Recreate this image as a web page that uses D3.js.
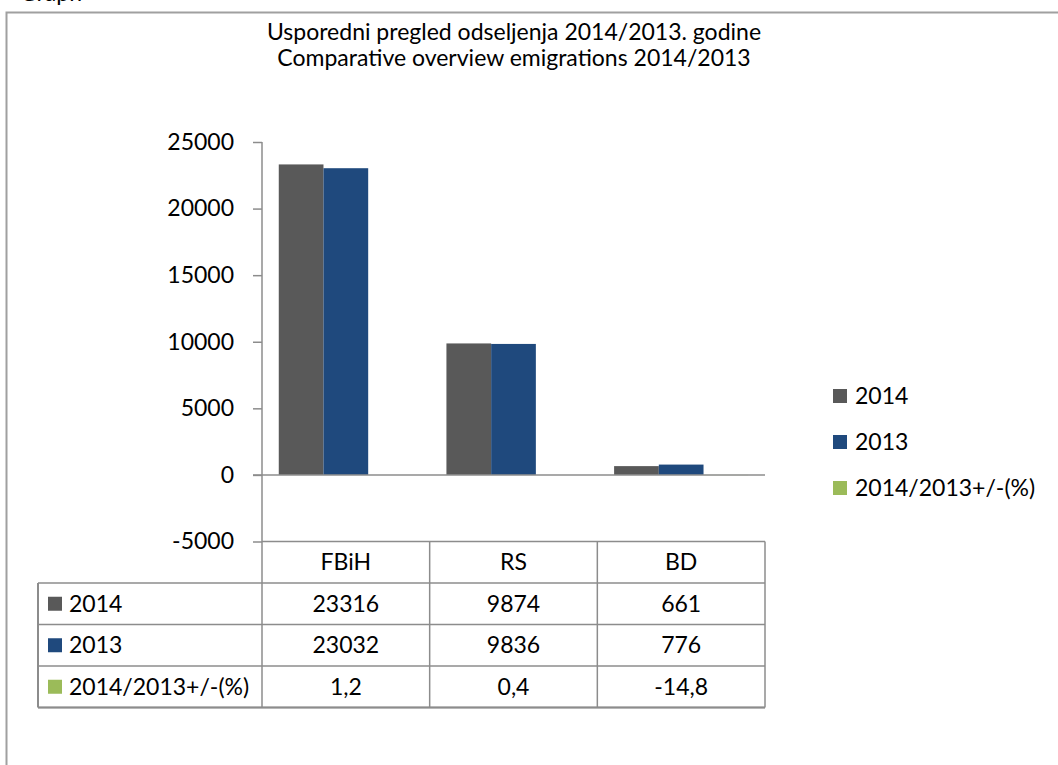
<!DOCTYPE html>
<html>
<head>
<meta charset="utf-8">
<script src="https://cdn.jsdelivr.net/npm/d3@7"></script>
<style>
    body { margin: 0; background: #fff; }
    svg { display: block; font-family: Lato, "Open Sans", sans-serif; }
</style>
</head>
<body>
<svg id="chart" width="1058" height="765"></svg>
<script>
var categories = ["FBiH", "RS", "BD"];
var seriesNames = ["2014", "2013", "2014/2013+/-(%)"];
var values2014 = [23316, 9874, 661];
var values2013 = [23032, 9836, 776];
var valuesPct = [1.2, 0.4, -14.8];
var pctLabels = ["1,2", "0,4", "-14,8"];
var yTicks = [-5000, 0, 5000, 10000, 15000, 20000, 25000];
var titleLines = ["Usporedni pregled odseljenja 2014/2013. godine", "Comparative overview emigrations 2014/2013"];

var colors = ["#595959", "#1F497D", "#9BBB59"];
var lineColor = "#8c8c8c";
var fontSize = 23;

var svg = d3.select("#chart");

// caption above the frame, mostly off the top of the picture
svg.append("text")
    .attr("x", 20)
    .attr("y", 1)
    .attr("font-size", fontSize)
    .text("Graph");

// chart frame (runs off the right and bottom edges)
svg.append("rect")
    .attr("x", 6.5)
    .attr("y", 12.5)
    .attr("width", 1200)
    .attr("height", 900)
    .attr("fill", "none")
    .attr("stroke", "#a0a0a0")
    .attr("stroke-width", 2);

// title
svg.append("g")
    .attr("font-size", fontSize)
    .attr("text-anchor", "middle")
    .selectAll("text")
    .data(titleLines)
    .join("text")
    .attr("x", 514)
    .attr("y", function (d, i) { return 40 + i * 26; })
    .text(function (d) { return d; });

var x = d3.scaleBand()
    .domain(categories)
    .range([262, 765]);

var y = d3.scaleLinear()
    .domain([-5000, 25000])
    .range([541.5, 142]);

var bw = x.bandwidth();
var x1 = d3.scaleBand()
    .domain(seriesNames)
    .range([bw * 0.1, bw * 0.9]);

var rows = seriesNames.map(function (name, i) {
    var vals = [values2014, values2013, valuesPct][i];
    return {
        name: name,
        color: colors[i],
        values: categories.map(function (c, j) {
            return { cat: c, value: vals[j] };
        }),
        labels: i == 2 ? pctLabels : vals.map(String)
    };
});

// y axis
svg.append("g")
    .attr("transform", "translate(262,0)")
    .call(d3.axisLeft(y)
        .tickValues(yTicks)
        .tickSize(9)
        .tickPadding(19)
        .tickFormat(function (d) { return String(d); }))
    .call(g => g.select(".domain").remove())
    .call(g => g.selectAll(".tick line").attr("stroke", lineColor).attr("stroke-width", 1.5))
    .call(g => g.selectAll(".tick text")
        .attr("font-family", "Lato, sans-serif")
        .attr("font-size", fontSize)
        .attr("fill", "#000"));

// bars
svg.append("g")
    .selectAll("g")
    .data(rows)
    .join("g")
    .attr("fill", function (d) { return d.color; })
    .selectAll("rect")
    .data(function (d) { return d.values.map(function (v) { return { name: d.name, cat: v.cat, value: v.value }; }); })
    .join("rect")
    .attr("x", function (d) { return x(d.cat) + x1(d.name); })
    .attr("width", x1.bandwidth())
    .attr("y", function (d) { return y(Math.max(0, d.value)); })
    .attr("height", function (d) { return Math.abs(y(0) - y(d.value)); });

// zero line
svg.append("line")
    .attr("x1", 253).attr("x2", 765)
    .attr("y1", y(0)).attr("y2", y(0))
    .attr("stroke", lineColor).attr("stroke-width", 1.5);

// y axis line and data table grid
var rowH = 41.5;
var tableTop = y(-5000);
var bodyTop = tableTop + rowH;
var tableBottom = bodyTop + rowH * rows.length;
var grid = svg.append("g")
    .attr("stroke", lineColor)
    .attr("stroke-width", 1.5);

grid.append("line")
    .attr("x1", 262).attr("x2", 262)
    .attr("y1", y(25000)).attr("y2", tableBottom);

grid.append("line")
    .attr("x1", 262).attr("x2", 765)
    .attr("y1", tableTop).attr("y2", tableTop);

grid.selectAll("line.h")
    .data(d3.range(rows.length + 1))
    .join("line")
    .attr("class", "h")
    .attr("x1", 38).attr("x2", 765)
    .attr("y1", function (i) { return bodyTop + i * rowH; })
    .attr("y2", function (i) { return bodyTop + i * rowH; });

grid.selectAll("line.v")
    .data(categories)
    .join("line")
    .attr("class", "v")
    .attr("x1", function (d) { return x(d) + bw; })
    .attr("x2", function (d) { return x(d) + bw; })
    .attr("y1", tableTop).attr("y2", tableBottom);

grid.append("line")
    .attr("x1", 38).attr("x2", 38)
    .attr("y1", bodyTop).attr("y2", tableBottom)
    .attr("stroke-width", 2);

grid.append("line")
    .attr("x1", 38).attr("x2", 765)
    .attr("y1", tableBottom).attr("y2", tableBottom)
    .attr("stroke-width", 2);

// table header
svg.append("g")
    .attr("font-size", fontSize)
    .attr("text-anchor", "middle")
    .selectAll("text")
    .data(categories)
    .join("text")
    .attr("x", function (d) { return x(d) + bw / 2; })
    .attr("y", tableTop + rowH / 2)
    .attr("dy", "0.35em")
    .text(function (d) { return d; });

// table rows
var tr = svg.append("g")
    .attr("font-size", fontSize)
    .selectAll("g")
    .data(rows)
    .join("g")
    .attr("transform", function (d, i) { return "translate(0," + (bodyTop + i * rowH + rowH / 2) + ")"; });

tr.append("rect")
    .attr("x", 48)
    .attr("y", -7)
    .attr("width", 14)
    .attr("height", 14)
    .attr("fill", function (d) { return d.color; });

tr.append("text")
    .attr("x", 69)
    .attr("dy", "0.35em")
    .text(function (d) { return d.name; });

tr.selectAll("text.val")
    .data(function (d) { return d.labels; })
    .join("text")
    .attr("class", "val")
    .attr("text-anchor", "middle")
    .attr("x", function (d, i) { return x(categories[i]) + bw / 2; })
    .attr("dy", "0.35em")
    .text(function (d) { return d; });

// legend
var legend = svg.append("g")
    .attr("font-size", fontSize)
    .selectAll("g")
    .data(rows)
    .join("g")
    .attr("transform", function (d, i) { return "translate(833," + (396 + i * 46) + ")"; });

legend.append("rect")
    .attr("y", -7)
    .attr("width", 14)
    .attr("height", 14)
    .attr("fill", function (d) { return d.color; });

legend.append("text")
    .attr("x", 22)
    .attr("dy", "0.35em")
    .text(function (d) { return d.name; });
</script>
</body>
</html>
